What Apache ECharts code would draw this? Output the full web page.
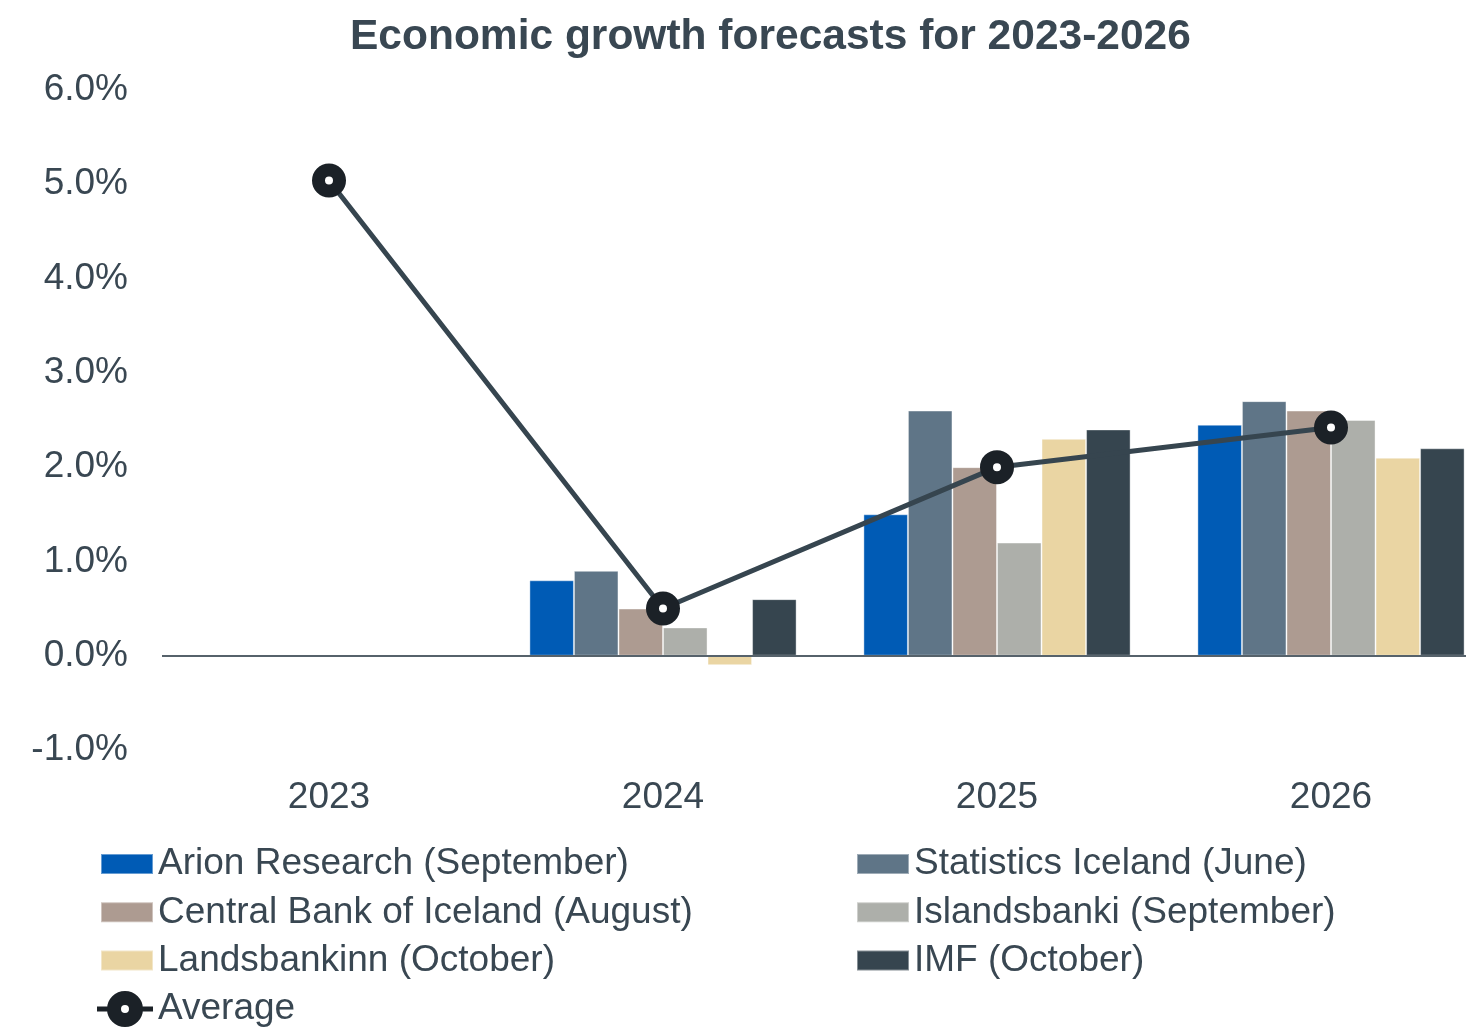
<!DOCTYPE html>
<html>
<head>
<meta charset="utf-8">
<title>Economic growth forecasts for 2023-2026</title>
<script src="https://cdn.jsdelivr.net/npm/echarts@6/dist/echarts.min.js"></script>
<style>
  html, body { margin: 0; padding: 0; background: #ffffff; overflow: hidden; }
  #chart { width: 1498px; height: 1029px; }
</style>
</head>
<body>
<div id="chart"></div>
<script>
// Forecast years
const years = ['2023', '2024', '2025', '2026'];

// GDP growth forecasts, % (null = no forecast published for that year)
const arionResearch     = [null, 0.8, 1.5, 2.45];
const statisticsIceland = [null, 0.9, 2.6, 2.7];
const centralBank       = [null, 0.5, 2.0, 2.6];
const islandsbanki      = [null, 0.3, 1.2, 2.5];
const landsbankinn      = [null, -0.1, 2.3, 2.1];
const imf               = [null, 0.6, 2.4, 2.2];
const average           = [5.04, 0.5, 2.0, 2.42];

// Value axis range and ticks
const yMin = -1;
const yMax = 6;
const yStep = 1;

const TEXT = '#394752';
const FONT = 'Liberation Sans, Arial, sans-serif';

const barDefs = [
  { name: 'Arion Research (September)', data: arionResearch, color: '#005bb5' },
  { name: 'Statistics Iceland (June)', data: statisticsIceland, color: '#5f7587' },
  { name: 'Central Bank of Iceland (August)', data: centralBank, color: '#ad9b91' },
  { name: 'Islandsbanki (September)', data: islandsbanki, color: '#adafaa' },
  { name: 'Landsbankinn (October)', data: landsbankinn, color: '#ead5a3' },
  { name: 'IMF (October)', data: imf, color: '#36454f' }
];

const barSeries = barDefs.map((d, i) => ({
  name: d.name,
  type: 'bar',
  data: d.data,
  barGap: '0%',
  barCategoryGap: '20%',
  itemStyle: { color: d.color, borderColor: 'rgba(255,255,255,0.4)', borderWidth: 1 },
  z: 2,
  markLine: i === 0 ? {
    silent: true,
    symbol: ['none', 'none'],
    label: { show: false },
    lineStyle: { color: '#56626b', width: 2, type: 'solid' },
    data: [{ yAxis: 0 }]
  } : undefined
}));

// Legend glyph for the average line: short line stubs around a ring
const ringIcon = 'path://M0,15.5 L11,15.5 L11,20.5 L0,20.5 Z M45,15.5 L56,15.5 L56,20.5 L45,20.5 Z ' +
  'M28,0 A18,18 0 1,1 28,36 A18,18 0 1,1 28,0 Z M28,14 A4,4 0 1,0 28,22 A4,4 0 1,0 28,14 Z';

const legendText = { color: TEXT, fontSize: 37, fontFamily: FONT, lineHeight: 40 };

const option = {
  animation: false,
  backgroundColor: '#ffffff',
  title: {
    text: 'Economic growth forecasts for 2023-2026',
    left: 350,
    top: 16,
    padding: 0,
    textStyle: { color: TEXT, fontSize: 42.5, fontWeight: 'bold', fontFamily: FONT }
  },
  grid: { left: 162, right: 0, top: 90, bottom: 279, containLabel: false },
  legend: [
    {
      orient: 'vertical', left: 100, top: 844, itemWidth: 52, itemHeight: 20, itemGap: 8.3,
      padding: 0, textStyle: legendText, selectedMode: false, icon: 'rect',
      data: [barDefs[0].name, barDefs[2].name, barDefs[4].name]
    },
    {
      orient: 'vertical', left: 856, top: 844, itemWidth: 52, itemHeight: 20, itemGap: 8.3,
      padding: 0, textStyle: legendText, selectedMode: false, icon: 'rect',
      data: [barDefs[1].name, barDefs[3].name, barDefs[5].name]
    },
    {
      orient: 'vertical', left: 97, top: 989, itemWidth: 56, itemHeight: 36,
      padding: 0, textStyle: legendText, selectedMode: false,
      data: [{ name: 'Average', icon: ringIcon, itemStyle: { color: '#1b2127', borderWidth: 0 } }]
    }
  ],
  xAxis: {
    type: 'category',
    data: years,
    axisLine: { show: false },
    axisTick: { show: false },
    axisLabel: { color: TEXT, fontSize: 37, fontFamily: FONT, margin: 29 }
  },
  yAxis: {
    type: 'value',
    min: yMin,
    max: yMax,
    interval: yStep,
    axisLine: { show: false },
    axisTick: { show: false },
    splitLine: { show: false },
    axisLabel: {
      color: TEXT, fontSize: 37, fontFamily: FONT, margin: 34,
      padding: [4, 0, 0, 0],
      formatter: v => v.toFixed(1) + '%'
    }
  },
  series: barSeries.concat([{
    name: 'Average',
    type: 'line',
    data: average,
    z: 5,
    lineStyle: { color: '#36454f', width: 5 },
    symbol: 'circle',
    symbolSize: 21,
    itemStyle: { color: '#ffffff', borderColor: '#1b2127', borderWidth: 13 }
  }])
};

const chart = echarts.init(document.getElementById('chart'), null, { renderer: 'canvas' });
chart.setOption(option);
</script>
</body>
</html>
